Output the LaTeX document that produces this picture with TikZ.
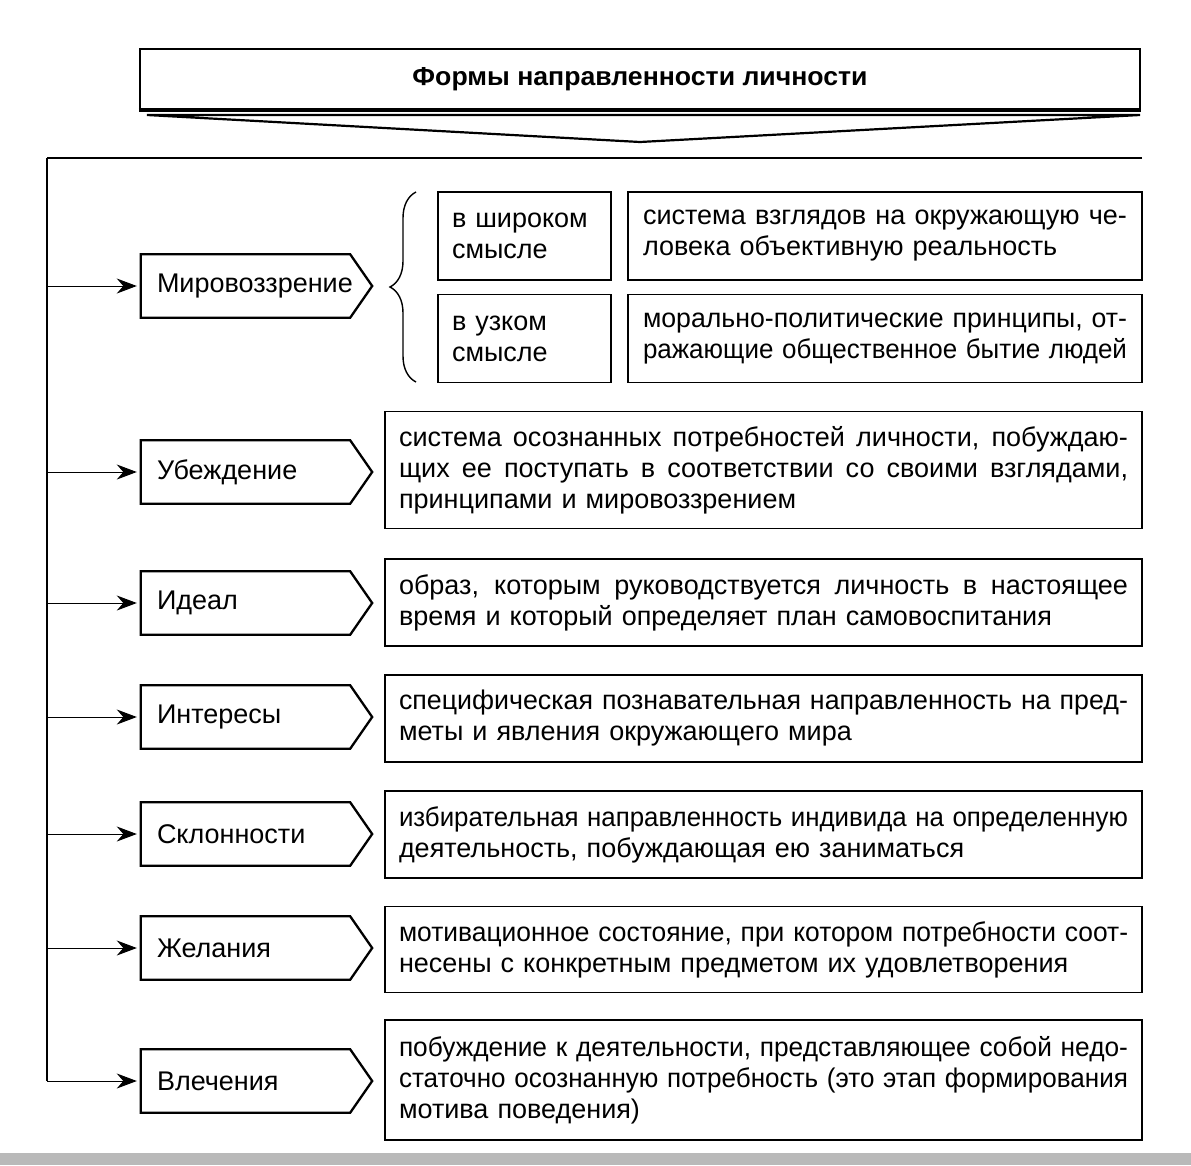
\documentclass[tikz,border=0pt]{standalone}
\usepackage{fontspec}
\setmainfont{Liberation Sans}
\usepackage{graphicx}
\usetikzlibrary{arrows.meta,decorations.pathreplacing,calc}

\newcommand\fitline[2]{\leavevmode\setbox0\hbox{#2}\ifdim\wd0>#1\relax\resizebox{#1}{\height}{\box0}\else{\spaceskip=0.28em plus 2em minus 0.05em\xspaceskip=0.3em plus 2em minus 0.05em\hbox to #1{#2}}\fi}
\newcommand\lastline[2]{\leavevmode\setbox0\hbox{#2}\ifdim\wd0>#1\relax\resizebox{#1}{\height}{\box0}\else\box0\fi}

\tikzset{
  base/.style={font=\fontsize{27}{31}\selectfont, inner sep=0pt, align=left, anchor=center},
  defbox/.style={base, draw, line width=1.8pt, inner xsep=14pt, text width=729pt, minimum width=757pt},
  subdef/.style={base, draw, line width=1.8pt, inner xsep=15pt, text width=484pt, minimum width=514pt, minimum height=88pt},
  sublab/.style={base, draw, line width=1.8pt, inner xsep=14pt, text width=145pt, minimum width=173pt, minimum height=88pt},
  lab/.style={base, inner xsep=16pt, text width=199pt, minimum width=231pt, minimum height=63pt},
  pent/.style={line width=2.3pt, line join=miter},
  arr/.style={-{Stealth[length=20pt,width=15pt]}, line width=1pt, shorten >=4pt},
}

\newcommand\pentagon[1]{\draw[pent] (#1.north west) -- ([xshift=-22pt]#1.north east) -- (#1.east) -- ([xshift=-22pt]#1.south east) -- (#1.south west) -- cycle;}

\begin{document}
\begin{tikzpicture}[x=1pt,y=-1pt]
\useasboundingbox (0,0) rectangle (1191,1165);
\fill[white] (0,0) rectangle (1191,1165);
\fill[gray!55] (0,1153) rectangle (1191,1165);

% title
\node[draw, line width=2.2pt, minimum width=1000pt, minimum height=60pt, inner sep=0pt] (title) at (640,79)
  {\fontsize{26}{30}\selectfont\resizebox{455pt}{\height}{\bfseries Формы направленности личности}};
\draw[line width=3.5pt] (title.south west) -- (title.south east);
\coordinate (cl) at (147,115);
\coordinate (cr) at (1140,115);
\coordinate (ct) at (640,142);
\draw[line width=2.2pt, line join=miter, fill=white] (cl) -- (cr) -- (ct) -- cycle;

% frame
\coordinate (trunk) at (47,158);
\coordinate (fr) at (1142,158);
\draw[line width=1.1pt] (fr) -- (trunk);

% row 1
\node[lab] (p1) at (256.5,286) {\lastline{199pt}{Мировоззрение}};
\pentagon{p1}
\draw[decorate, decoration={brace, amplitude=26pt}, line width=1.4pt] (416,382) -- (416,192);
\node[sublab] (s1) at (524.5,236) {в широком\\смысле};
\node[sublab] (s2) at (524.5,338.5) {в узком\\смысле};
\node[subdef] (q1) at (885,236) {\fitline{484pt}{система взглядов на окружающую че-}\\\lastline{484pt}{ловека объективную реальность}};
\node[subdef] (q2) at (885,338.5) {\fitline{484pt}{морально-политические принципы, от-}\\\fitline{484pt}{ражающие общественное бытие людей}};

% row 2
\node[lab] (p2) at (256.5,472) {\lastline{199pt}{Убеждение}};
\pentagon{p2}
\node[defbox, minimum height=117pt] (d2) at (763.5,470) {\fitline{729pt}{система осознанных потребностей личности, побуждаю-}\\\fitline{729pt}{щих ее поступать в соответствии со своими взглядами,}\\\lastline{729pt}{принципами и мировоззрением}};

% row 3
\node[lab] (p3) at (256.5,603) {\lastline{199pt}{Идеал}};
\pentagon{p3}
\node[defbox, minimum height=87pt] (d3) at (763.5,602.5) {\fitline{729pt}{образ, которым руководствуется личность в настоящее}\\\lastline{729pt}{время и который определяет план самовоспитания}};

% row 4
\node[lab] (p4) at (256.5,717) {\lastline{199pt}{Интересы}};
\pentagon{p4}
\node[defbox, minimum height=87pt] (d4) at (763.5,718.5) {\fitline{729pt}{специфическая познавательная направленность на пред-}\\\lastline{729pt}{меты и явления окружающего мира}};

% row 5
\node[lab] (p5) at (256.5,834) {\lastline{199pt}{Склонности}};
\pentagon{p5}
\node[defbox, minimum height=87pt] (d5) at (763.5,834.5) {\fitline{729pt}{избирательная направленность индивида на определенную}\\\lastline{729pt}{деятельность, побуждающая ею заниматься}};

% row 6
\node[lab] (p6) at (256.5,948) {\lastline{199pt}{Желания}};
\pentagon{p6}
\node[defbox, minimum height=86pt] (d6) at (763.5,949.5) {\fitline{729pt}{мотивационное состояние, при котором потребности соот-}\\\lastline{729pt}{несены с конкретным предметом их удовлетворения}};

% row 7
\node[lab] (p7) at (256.5,1081) {\lastline{199pt}{Влечения}};
\pentagon{p7}
\node[defbox, minimum height=120pt] (d7) at (763.5,1080) {\fitline{729pt}{побуждение к деятельности, представляющее собой недо-}\\\fitline{729pt}{статочно осознанную потребность (это этап формирования}\\\lastline{729pt}{мотива поведения)}};

% trunk and arrows
\draw[line width=1.1pt] (trunk) -- (trunk |- p7.west);
\foreach \p in {p1,p2,p3,p4,p5,p6,p7}
  \draw[arr] (trunk |- \p.west) -- (\p.west);
\end{tikzpicture}
\end{document}
